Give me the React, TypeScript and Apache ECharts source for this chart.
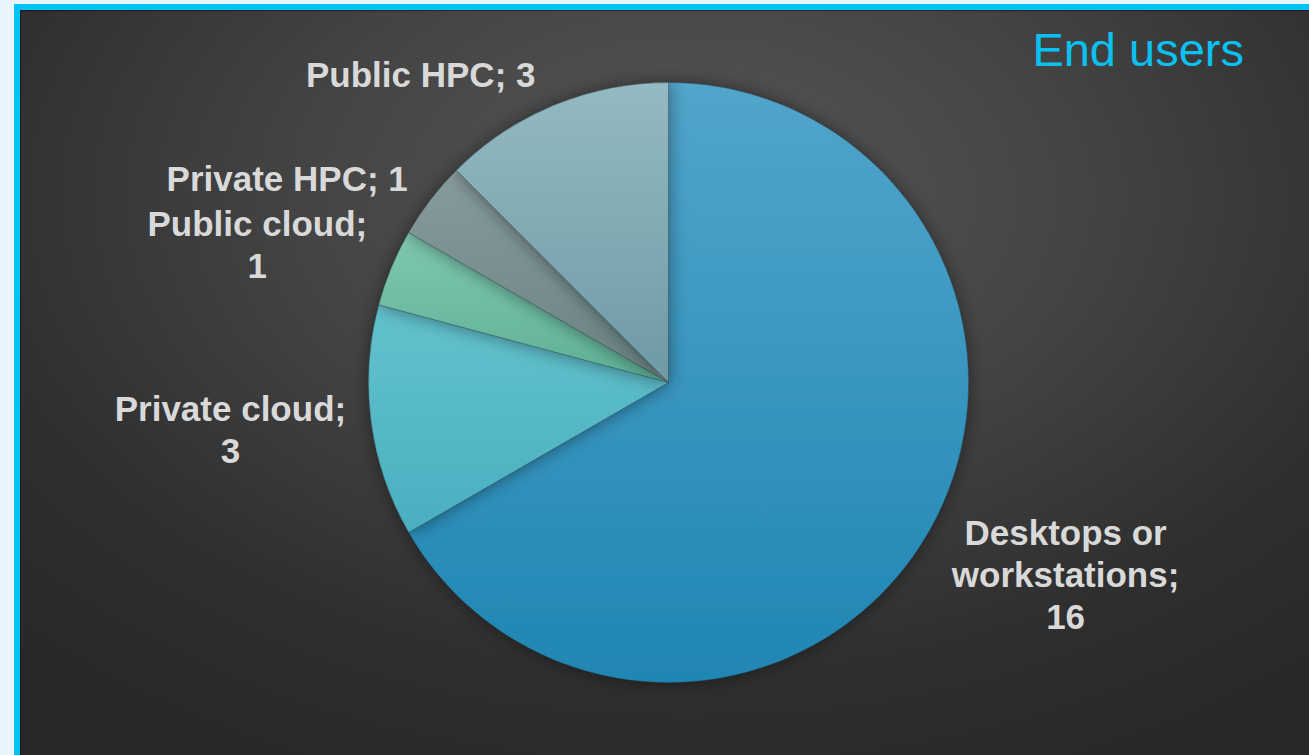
import React, { useEffect, useRef } from "react";
import * as echarts from "echarts";

// ---- data ----
const categories: string[] = [
  "Desktops or\nworkstations",
  "Private cloud",
  "Public cloud",
  "Private HPC",
  "Public HPC",
];
const values: number[] = [16, 3, 1, 1, 3];
const breakBeforeValue: boolean[] = [true, true, true, false, false];
const topColors: string[] = ["#52a5cb", "#63c2cd", "#7fc8b0", "#889b9d", "#94bac2"];
const bottomColors: string[] = ["#1f86b4", "#4aafc0", "#5eb096", "#6a8282", "#6e9aa5"];
const titleText = "End users";

// ---- layout constants ----
const W = 1309;
const H = 755;
const CX = 668.5;
const CY = 382.5;
const R = 300;

export default function App() {
  const ref = useRef<HTMLDivElement>(null);

  useEffect(() => {
    if (!ref.current) return;
    const chart = echarts.init(ref.current, undefined, { renderer: "svg" });
    const total = values.reduce((a, b) => a + b, 0);
    const mids: number[] = [];
    let acc = 0;
    values.forEach((v) => {
      mids.push(((acc + v / 2) / total) * Math.PI * 2);
      acc += v;
    });

    const data = categories.map((name, i) => ({
      name,
      value: values[i],
      itemStyle: {
        color: new echarts.graphic.LinearGradient(0, 0, 0, 1, [
          { offset: 0, color: topColors[i] },
          { offset: 1, color: bottomColors[i] },
        ]),
      },
    }));

    chart.setOption({
      animation: false,
      backgroundColor: "transparent",
      graphic: [
        {
          type: "text",
          x: 1244,
          y: 49,
          style: {
            text: titleText,
            fill: "#0bc1f2",
            font: '47px "Liberation Sans", Arial, sans-serif',
            align: "right",
            verticalAlign: "middle",
            textAlign: "right",
            textVerticalAlign: "middle",
          },
        },
      ],
      series: [
        {
          type: "pie",
          center: [CX, CY],
          radius: R,
          startAngle: 90,
          clockwise: true,
          avoidLabelOverlap: false,
          data,
          itemStyle: {
            borderColor: "rgba(40,60,70,0.3)",
            borderWidth: 1,
            shadowBlur: 18,
            shadowColor: "rgba(0,0,0,0.45)",
          },
          emphasis: { disabled: true },
          labelLine: { show: false },
          label: {
            show: true,
            position: "outside",
            color: "#d9d9d9",
            fontFamily: '"Liberation Sans", Arial, sans-serif',
            fontWeight: "bold",
            fontSize: 35,
            lineHeight: 42,
            align: "center",
            formatter: (p: any) =>
              `${p.name};${breakBeforeValue[p.dataIndex] ? "\n" : " "}${p.value}`,
          },
          labelLayout: (params: any) => {
            const i = params.dataIndex;
            const a = mids[i];
            const dx = Math.sin(a);
            const dy = -Math.cos(a);
            const sign = dx < 0 ? -1 : 1;
            const w = params.labelRect.width;
            const h = params.labelRect.height;
            const px = CX + (R + 11) * dx + sign * 14;
            const py = CY + (R + 11) * dy;
            const f = Math.max(-0.5, Math.min(0.5, 0.58 * dy));
            return {
              x: px + (sign * w) / 2,
              y: py + h * f,
              align: "center",
              verticalAlign: "middle",
            };
          },
        },
      ],
    });
    return () => chart.dispose();
  }, []);

  return (
    <div
      style={{
        position: "fixed",
        left: 0,
        top: 0,
        width: W,
        height: H,
        background: "#e8f5fc",
        overflow: "hidden",
      }}
    >
      <div
        style={{
          position: "absolute",
          left: 14,
          top: 4,
          right: 0,
          bottom: 0,
          background: "#00c3fb",
        }}
      />
      <div
        style={{
          position: "absolute",
          left: 20,
          top: 10,
          right: 0,
          bottom: 0,
          background:
            "radial-gradient(ellipse 75% 85% at 52% 25%, #575757 0%, #444444 40%, #2f2f2f 75%, #282828 100%)",
          boxShadow: "inset 1px 1px 1px rgba(0,0,0,0.5)",
        }}
      />
      <div
        ref={ref}
        style={{ position: "absolute", left: 0, top: 0, width: W, height: H }}
      />
    </div>
  );
}
